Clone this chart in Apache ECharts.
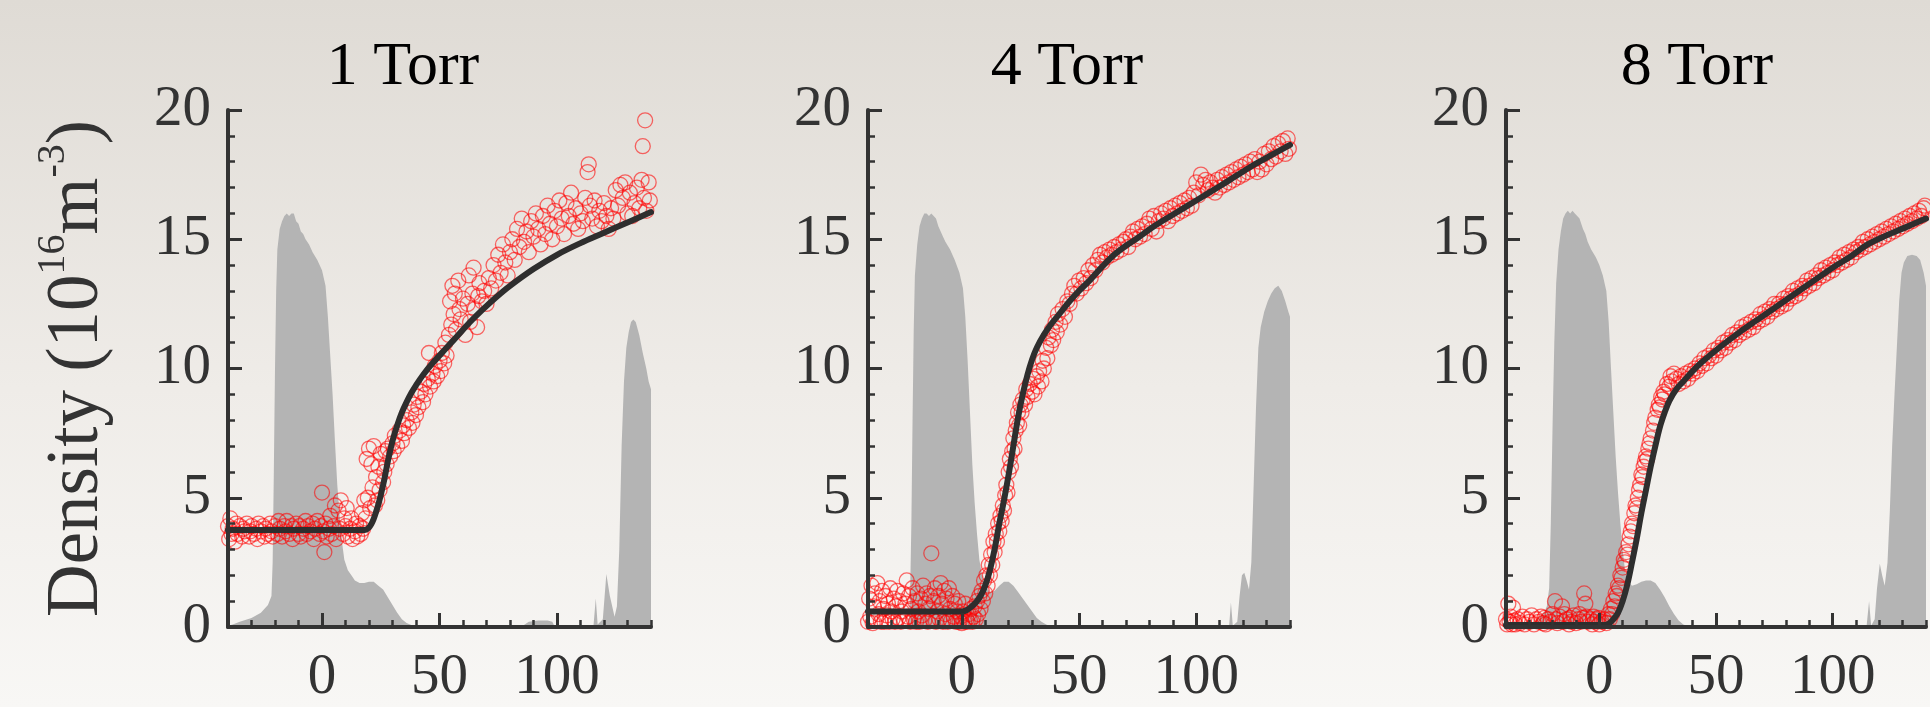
<!DOCTYPE html>
<html>
<head>
<meta charset="utf-8">
<script src="https://cdn.jsdelivr.net/npm/echarts@6/dist/echarts.min.js"></script>
<style>
html,body{margin:0;padding:0;background:#eeebe7;}
#chart{width:1930px;height:707px;}
</style>
</head>
<body>
<div id="chart"></div>
<script>
// ---------------- data ----------------
const panelTitles = ['1 Torr', '4 Torr', '8 Torr'];
const xTickLabels = [0, 50, 100];
const yAxisLabel = 'Density (10{sup|16}m{sup|-3})';

// grey pulse profiles
const pulse1Torr = [[-40,0.05],[-38,0.1],[-35,0.2],[-30,0.35],[-26,0.55],[-23,0.85],[-21.5,1.2],[-21,2.5],[-20.5,6],[-20,10],[-19.5,13],[-19,14.6],[-18,15.4],[-17,15.7],[-16,15.9],[-15,16.0],[-14,15.9],[-13,16.0],[-12,16.0],[-11,15.7],[-10,15.6],[-9,15.3],[-8,15.2],[-7,15.0],[-5.5,14.8],[-4,14.5],[-2,14.2],[0,13.8],[1.5,13.2],[2.5,12.0],[3.5,10.5],[4.5,9.0],[5.5,7.2],[6.5,5.5],[7.5,4.3],[8.5,3.3],[9.5,2.6],[11,2.2],[12.5,2.0],[14,1.8],[16,1.7],[18,1.7],[20,1.75],[22,1.75],[24,1.6],[26,1.45],[28,1.15],[30,0.85],[32,0.55],[34,0.3],[36,0.15],[38,0.08],[40,0.03],[85,0.02],[88,0.2],[92,0.25],[96,0.25],[98,0.2],[99,0.02],[115.5,0.02],[116.5,1.1],[117.3,0.1],[119.5,0.3],[121,2.05],[122.5,1.2],[124.5,0.4],[125.5,0.8],[126.5,3],[127.5,7],[128.5,9.5],[129.5,10.8],[130.5,11.4],[131.5,11.8],[132.5,11.9],[133.5,11.8],[135,11.3],[136.5,10.6],[138,10.0],[139,9.5],[140,9.2]];
const pulse4Torr = [[-40,0],[-23,0],[-22.5,0.3],[-22,1.5],[-21.5,4],[-21,8],[-20.5,11.5],[-20,13.6],[-19,14.8],[-18,15.5],[-17,15.8],[-16,16.0],[-15,16.0],[-14,15.9],[-13,16.0],[-12,15.9],[-11,15.8],[-10,15.5],[-9,15.3],[-8,15.1],[-7,14.9],[-5,14.6],[-3,14.2],[-1,13.7],[0.5,13.1],[1.5,12.0],[2.5,10.3],[3.5,8.3],[4.5,6.3],[5.5,4.8],[6.5,3.6],[7.5,2.6],[8.5,2.1],[10,1.6],[12,1.35],[14,1.4],[16,1.6],[18,1.75],[20,1.75],[22,1.6],[24,1.35],[26,1.1],[28,0.85],[30,0.6],[32,0.35],[34,0.2],[36,0.1],[38,0.03],[40,0],[114,0],[114.8,0.95],[115.6,0.05],[117.5,0.2],[118.5,1.2],[119.5,2.0],[120.5,2.1],[121.5,1.8],[122.5,1.45],[123.5,2.5],[124.5,5.5],[125.5,8.5],[126.5,10.8],[127.5,11.6],[129,12.2],[130.5,12.6],[132,12.9],[133.5,13.1],[135,13.2],[136.5,13.0],[138,12.6],[139.3,12.2],[140,12.0]];
const pulse8Torr = [[-40,0],[-30,0],[-27,0.3],[-25,0.45],[-23.5,0.6],[-22.5,0.8],[-21.5,1.5],[-20.8,4],[-20,8],[-19.3,11],[-18.5,13.3],[-17.5,14.6],[-16.5,15.3],[-15.5,15.8],[-14.5,16.0],[-13.5,16.1],[-12.5,16.0],[-11.5,16.1],[-10.5,16.0],[-9.5,15.9],[-8.5,15.8],[-7,15.4],[-6,15.2],[-5,14.9],[-3.5,14.6],[-1.5,14.3],[0,14.0],[1.5,13.6],[3,13.0],[4,11.8],[5,10.0],[6,8.3],[7,6.6],[8,5.2],[9,4.0],[10,3.0],[11,2.2],[12,1.8],[14,1.6],[16,1.65],[18,1.75],[20,1.8],[22,1.8],[24,1.7],[26,1.45],[28,1.15],[30,0.8],[32,0.5],[34,0.25],[36,0.1],[38,0.03],[40,0],[114.5,0],[115.6,1.0],[116.5,0.05],[118,0.3],[119,1.5],[120.2,2.45],[121.2,2.0],[122.3,1.6],[123.5,2.5],[124.5,4.5],[125.5,7.0],[126.5,9.0],[127.5,10.8],[128.5,12.6],[129.5,13.7],[130.5,14.1],[132,14.35],[134,14.4],[136,14.35],[137.5,14.2],[139,13.7],[140,13.2]];

// measured densities (red circles)
const points1Torr = [[-40,3.9],[-39.5,3.4],[-39,4.2],[-38.5,3.6],[-38,3.8],[-37,3.3],[-36.5,4.0],[-36,3.6],[-35,3.9],[-34,3.5],[-33.5,3.8],[-33,3.7],[-32,4.0],[-31,3.5],[-30.5,3.7],[-30,3.9],[-29,3.6],[-28,3.8],[-27.5,3.4],[-27,4.0],[-26,3.7],[-25,3.9],[-24.5,3.5],[-24,3.8],[-23,3.6],[-22,4.0],[-21.5,3.7],[-21,3.5],[-20,3.9],[-19,3.6],[-18.5,4.1],[-18,3.8],[-17,3.5],[-16,3.9],[-15.5,3.7],[-15,4.1],[-14,3.6],[-13,3.9],[-12.5,3.4],[-12,3.8],[-11,4.0],[-10,3.6],[-9.5,3.9],[-9,3.5],[-8,3.8],[-7,4.1],[-6.5,3.6],[-6,3.9],[-5,3.7],[-4,4.0],[-3.5,3.4],[-3,3.8],[-2,4.1],[-1,3.6],[-0.5,3.9],[0,5.2],[0.5,3.7],[1,2.9],[1.5,4.0],[2,3.5],[3,3.8],[3.5,4.3],[4,3.6],[5,3.9],[5.5,4.7],[6,3.4],[7,4.5],[7.5,3.8],[8,4.9],[9,3.6],[9.5,4.2],[10,3.9],[10.5,4.6],[11,3.5],[12,3.8],[12.5,4.2],[13,3.4],[14,3.7],[14.5,4.0],[15,3.5],[16,3.9],[16.5,3.6],[17,4.4],[17.5,3.8],[18,4.9],[18.5,4.2],[19,6.5],[19.5,5.0],[20,6.9],[20.5,4.6],[21,6.3],[21.5,5.4],[22,7.0],[22.5,4.7],[23,5.8],[23.5,4.9],[24,6.2],[24.5,5.3],[25,6.7],[26,5.6],[26.5,6.0],[27,6.8],[27.5,6.3],[28,6.9],[29,6.6],[30,7.1],[30.5,6.8],[31,7.4],[32,7.0],[33,7.6],[34,7.2],[34.5,7.8],[35,7.5],[36,8.0],[37,7.7],[38,8.3],[38.5,7.9],[39,8.6],[40,8.2],[40.5,8.9],[41,8.5],[42,9.1],[43,8.7],[43.5,9.4],[44,9.0],[45,9.6],[45.5,10.6],[46,9.3],[47,9.8],[47.5,9.5],[48,10.1],[49,9.7],[50,10.3],[50.5,9.9],[51,10.6],[52,10.2],[52.5,11.0],[53,10.5],[54,11.3],[54.5,12.6],[55,11.7],[55.5,13.2],[56,12.1],[56.5,12.9],[57,11.5],[58,13.4],[58.5,12.3],[59,11.9],[60,12.7],[61,11.3],[62,12.5],[62.5,13.6],[63,11.8],[64,12.9],[64.5,13.9],[65,12.3],[66,11.6],[66.5,12.8],[67,13.3],[68,12.6],[69,13.0],[70,12.5],[71,13.5],[72,13.1],[73,14.0],[74,13.4],[75,14.4],[76,13.7],[77,14.8],[78,14.1],[79,13.6],[80,14.5],[81,15.0],[82,14.2],[83,15.4],[84,14.7],[85,15.8],[86,14.9],[87,15.3],[88,14.5],[89,15.7],[90,15.1],[91,16.0],[92,15.4],[93,14.8],[94,15.9],[95,15.2],[96,16.3],[97,15.6],[98,15.0],[99,16.1],[100,15.5],[101,16.5],[102,15.8],[103,15.2],[104,16.4],[105,15.9],[106,16.8],[107,15.6],[108,16.2],[109,15.4],[110,16.0],[111,15.7],[112,16.6],[113,17.6],[113.5,17.9],[114,16.3],[115,15.8],[116,16.5],[117,15.5],[118,16.1],[119,15.7],[120,16.4],[121,15.9],[122,15.4],[123,16.2],[124,15.8],[125,16.9],[126,16.3],[127,17.1],[128,16.6],[129,17.2],[130,16.0],[131,16.8],[132,15.9],[133,16.4],[134,17.0],[135,16.2],[136,17.3],[136.5,18.6],[137,16.6],[137.5,19.6],[138,16.1],[139,17.2],[139.5,16.5]];
const points4Torr = [[-40,0.2],[-39.5,1.1],[-39,0.4],[-38.5,1.6],[-38,0.15],[-37.5,0.8],[-37,1.3],[-36.5,0.3],[-36,1.7],[-35.5,0.5],[-35,1.0],[-34.5,0.2],[-34,1.4],[-33.5,0.7],[-33,0.2],[-32.5,1.2],[-32,0.45],[-31.5,0.9],[-31,0.2],[-30.5,1.5],[-30,0.6],[-29.5,0.3],[-29,1.1],[-28.5,0.2],[-28,0.8],[-27.5,1.4],[-27,0.35],[-26.5,1.0],[-26,0.2],[-25.5,0.6],[-25,1.3],[-24.5,0.25],[-24,0.9],[-23.5,1.8],[-23,0.4],[-22.5,1.2],[-22,0.2],[-21.5,0.7],[-21,1.5],[-20.5,0.3],[-20,1.0],[-19.5,0.2],[-19,1.3],[-18.5,0.6],[-18,0.2],[-17.5,1.1],[-17,0.45],[-16.5,1.6],[-16,0.25],[-15.5,0.9],[-15,1.3],[-14.5,0.2],[-14,0.7],[-13.5,1.2],[-13,2.85],[-12.5,0.3],[-12,1.0],[-11.5,1.5],[-11,0.2],[-10.5,0.6],[-10,1.2],[-9.5,0.3],[-9,1.7],[-8.5,0.9],[-8,0.2],[-7.5,1.4],[-7,0.5],[-6.5,1.1],[-6,0.2],[-5.5,1.5],[-5,0.7],[-4.5,0.25],[-4,1.2],[-3.5,0.4],[-3,0.9],[-2.5,0.2],[-2,0.6],[-1.5,1.0],[-1,0.2],[-0.5,0.4],[0,0.15],[0.5,0.6],[1,0.2],[1.5,0.9],[2,0.3],[2.5,0.2],[3,0.5],[3.5,0.25],[4,0.7],[4.5,0.2],[5,0.4],[5.5,0.8],[6,0.3],[6.5,1.0],[7,0.5],[7.5,1.2],[8,0.7],[8.5,1.4],[9,1.0],[9.5,1.8],[10,1.3],[10.5,2.0],[11,1.6],[11.5,2.4],[12,2.0],[12.5,2.8],[13,2.4],[13.5,3.3],[14,2.9],[14.5,3.6],[15,3.3],[15.5,4.0],[16,3.7],[16.5,4.3],[17,4.1],[17.5,4.7],[18,4.5],[18.5,5.1],[19,5.5],[19.5,5.2],[20,6.0],[20.5,6.5],[21,6.2],[21.5,6.8],[22,7.3],[22.5,6.9],[23,7.6],[23.5,7.9],[24,8.3],[24.5,7.8],[25,8.6],[25.5,8.3],[26,8.8],[27,8.6],[27.5,9.2],[28,8.9],[29,9.4],[30,9.1],[30.5,9.6],[31,9.0],[32,9.7],[32.5,9.3],[33,9.9],[34,9.5],[34.5,10.3],[35,10.0],[36,10.8],[36.5,10.4],[37,11.2],[38,10.9],[38.5,11.5],[39,11.1],[40,11.8],[40.5,11.4],[41,12.1],[42,11.7],[43,12.3],[44,12.0],[45,12.6],[46,12.5],[47,12.9],[48,13.2],[49,12.9],[50,13.4],[51,13.1],[52,13.5],[53,13.3],[54,13.8],[55,13.5],[56,14.0],[57,13.8],[58,14.2],[59,14.4],[60,14.1],[61,14.5],[62,14.3],[63,14.6],[64,14.4],[65,14.7],[66,14.5],[67,14.8],[68,14.6],[69,14.9],[70,15.0],[71,14.7],[72,15.1],[73,15.3],[74,15.0],[75,15.4],[76,15.1],[77,15.5],[78,15.2],[79,15.6],[80,15.8],[81,15.4],[82,15.9],[83,15.3],[84,15.7],[85,16.0],[86,15.8],[87,16.1],[88,15.7],[89,16.2],[90,15.9],[91,16.3],[92,16.0],[93,16.4],[94,16.1],[95,16.5],[96,16.2],[97,16.6],[98,16.3],[99,16.8],[100,17.2],[101,16.7],[102,17.5],[103,17.1],[104,17.3],[105,16.9],[106,17.2],[107,17.0],[108,16.8],[109,17.3],[110,17.0],[111,17.4],[112,17.1],[113,17.5],[114,17.2],[115,17.6],[116,17.3],[117,17.7],[118,17.4],[119,17.8],[120,17.5],[121,17.9],[122,17.6],[123,18.0],[124,17.7],[125,18.1],[126,17.6],[127,18.0],[128,17.7],[129,18.3],[130,17.9],[131,18.4],[132,18.1],[133,18.6],[134,18.2],[135,18.7],[136,18.4],[137,18.8],[138,18.3],[139,18.9],[139.5,18.5]];
const points8Torr = [[-40,0.3],[-39.5,0.1],[-39,0.9],[-38.5,0.2],[-38,0.4],[-37.5,0.1],[-37,0.75],[-36.5,0.25],[-36,0.1],[-35,0.3],[-34,0.15],[-33,0.4],[-32,0.1],[-31,0.3],[-30,0.2],[-29,0.45],[-28,0.1],[-27,0.3],[-26,0.2],[-25,0.4],[-24,0.15],[-23.5,0.35],[-23,0.1],[-22,0.3],[-21,0.2],[-20,0.5],[-19,1.0],[-18.5,0.3],[-18,0.15],[-17,0.4],[-16,0.8],[-15.5,0.2],[-15,0.5],[-14,0.3],[-13,0.1],[-12.5,0.35],[-12,0.2],[-11,0.45],[-10,0.15],[-9,0.3],[-8.5,0.5],[-8,0.2],[-7,0.35],[-6.5,1.3],[-6,0.9],[-5.5,0.4],[-5,0.2],[-4,0.3],[-3,0.1],[-2.5,0.4],[-2,0.2],[-1,0.3],[-0.5,0.35],[0,0.1],[1,0.2],[2,0.3],[3,0.15],[4,0.5],[4.5,0.3],[5,0.7],[5.5,0.5],[6,1.0],[6.5,0.8],[7,1.3],[7.5,1.2],[8,1.6],[8.5,1.5],[9,2.0],[9.5,1.9],[10,2.3],[10.5,2.6],[11,2.5],[11.5,2.9],[12,2.8],[12.5,3.2],[13,3.5],[13.5,3.7],[14,4.0],[14.5,3.9],[15,4.4],[15.5,4.7],[16,4.6],[16.5,5.0],[17,5.3],[17.5,5.5],[18,5.9],[18.5,5.8],[19,6.2],[19.5,6.4],[20,6.6],[20.5,6.5],[21,6.9],[21.5,7.1],[22,7.3],[23,7.6],[23.5,7.9],[24,8.1],[25,8.4],[25.5,8.6],[26,8.5],[26.5,8.9],[27,8.8],[27.5,9.1],[28,9.0],[29,9.4],[30,9.3],[30.5,9.7],[31,9.5],[32,9.8],[33,9.6],[34,9.4],[35,9.7],[36,9.5],[37,9.8],[38,9.6],[39,9.9],[40,9.8],[41,10.0],[42,9.9],[43,10.2],[44,10.1],[45,10.4],[46,10.2],[47,10.5],[48,10.4],[49,10.7],[50,10.5],[51,10.8],[52,10.7],[53,11.0],[54,10.8],[55,11.1],[56,11.0],[57,11.3],[58,11.1],[59,11.4],[60,11.3],[61,11.6],[62,11.4],[63,11.7],[64,11.5],[65,11.8],[66,11.6],[67,11.9],[68,11.8],[69,12.1],[70,11.9],[71,12.2],[72,12.0],[73,12.3],[74,12.2],[75,12.5],[76,12.3],[77,12.5],[78,12.4],[79,12.7],[80,12.5],[81,12.8],[82,12.7],[83,13.0],[84,12.8],[85,13.1],[86,12.9],[87,13.2],[88,13.1],[89,13.4],[90,13.2],[91,13.5],[92,13.3],[93,13.6],[94,13.5],[95,13.8],[96,13.6],[97,13.9],[98,13.7],[99,14.0],[100,13.8],[101,14.1],[102,14.0],[103,14.3],[104,14.1],[105,14.4],[106,14.2],[107,14.5],[108,14.3],[109,14.6],[110,14.5],[111,14.7],[112,14.6],[113,14.9],[114,14.7],[115,15.0],[116,14.8],[117,15.1],[118,14.9],[119,15.2],[120,15.0],[121,15.3],[122,15.1],[123,15.4],[124,15.2],[125,15.5],[126,15.3],[127,15.6],[128,15.4],[129,15.7],[130,15.5],[131,15.8],[132,15.6],[133,15.9],[134,15.7],[135,16.0],[136,15.8],[137,16.1],[138,15.9],[139,16.2],[139.5,16.3]];

// fitted curves (black)
const fit1Torr = [[-40,3.75],[18,3.75],[19,3.78],[20,3.85],[21,3.98],[22,4.18],[23,4.45],[24,4.75],[25,5.1],[26.5,5.7],[28,6.4],[30,7.2],[32,7.8],[34,8.3],[36,8.7],[38,9.05],[40,9.35],[43,9.75],[47,10.2],[53,10.8],[58,11.3],[63,11.8],[68,12.25],[74,12.75],[80,13.2],[90,13.85],[100,14.4],[110,14.85],[120,15.25],[130,15.65],[140,16.05]];
const fit4Torr = [[-40,0.6],[0,0.6],[2,0.65],[4,0.78],[6,0.95],[8,1.2],[10,1.6],[12,2.2],[14,3.0],[16,4.0],[18,4.9],[20,5.9],[22,7.0],[24,8.1],[26,9.0],[28,9.75],[30,10.35],[32,10.8],[35,11.3],[38,11.7],[42,12.15],[46,12.6],[50,13.0],[55,13.45],[60,13.95],[65,14.4],[70,14.75],[75,15.05],[82,15.5],[90,15.95],[100,16.5],[110,17.05],[117,17.45],[125,17.9],[132,18.25],[140,18.65]];
const fit8Torr = [[-40,0.08],[2,0.08],[4,0.12],[6,0.3],[8,0.55],[10,1.0],[12,1.65],[14,2.5],[16,3.4],[18,4.4],[20,5.3],[22,6.2],[24,7.0],[26,7.75],[28,8.3],[30,8.75],[33,9.2],[36,9.5],[40,9.9],[44,10.25],[52,10.85],[60,11.4],[68,11.9],[76,12.4],[84,12.9],[92,13.4],[100,13.9],[108,14.35],[115,14.8],[123,15.15],[131,15.45],[140,15.8]];

const xMin = -40, xMax = 140, yMin = 0, yMax = 20;

// ---------------- chart ----------------
const FONT = '"Liberation Serif", "Times New Roman", Times, serif';
const AX = '#333333';
const panels = [
  {title: panelTitles[0], pulse: pulse1Torr, pts: points1Torr, fit: fit1Torr},
  {title: panelTitles[1], pulse: pulse4Torr, pts: points4Torr, fit: fit4Torr},
  {title: panelTitles[2], pulse: pulse8Torr, pts: points8Torr, fit: fit8Torr}
];
const gridLefts = [228, 868, 1506];
const gridWidths = [423, 422, 420];
const titleCenters = [403, 1067, 1697];

const grid = [], xAxis = [], yAxis = [], series = [], title = [];
panels.forEach((p, i) => {
  grid.push({left: gridLefts[i], top: 110, width: gridWidths[i], height: 528});
  title.push({
    text: p.title, left: titleCenters[i], top: 37, textAlign: 'center', padding: 0,
    textStyle: {fontFamily: FONT, fontSize: 62, fontWeight: 'normal', color: '#000'}
  });
  xAxis.push({
    gridIndex: i, type: 'value', min: xMin, max: xMax, interval: 10, position: 'bottom', z: 5,
    axisLine: {show: true, onZero: false, lineStyle: {color: AX, width: 4}},
    axisTick: {show: true, inside: true, length: 7, lineStyle: {color: AX, width: 2.5}},
    axisLabel: {
      formatter: v => (xTickLabels.indexOf(v) >= 0 ? String(v) : ''),
      fontFamily: FONT, fontSize: 57, color: AX, margin: 23
    },
    splitLine: {show: false}
  });
  xAxis.push({
    gridIndex: i, type: 'value', min: xMin, max: xMax, position: 'bottom', z: 5,
    axisLine: {show: false, onZero: false},
    axisTick: {show: true, inside: true, length: 14, customValues: xTickLabels, lineStyle: {color: AX, width: 3}},
    axisLabel: {show: false},
    splitLine: {show: false}
  });
  yAxis.push({
    gridIndex: i, type: 'value', min: yMin, max: yMax, interval: 5, z: 5,
    axisLine: {show: true, onZero: false, lineStyle: {color: AX, width: 4}},
    axisTick: {show: true, inside: true, length: 14, lineStyle: {color: AX, width: 3}},
    minorTick: {show: true, splitNumber: 5, length: 7, lineStyle: {color: AX, width: 2.5}},
    axisLabel: {fontFamily: FONT, fontSize: 57, color: AX, margin: 17},
    splitLine: {show: false}, minorSplitLine: {show: false},
    name: i === 0 ? yAxisLabel : '',
    nameLocation: 'middle', nameGap: 105, nameRotate: 90,
    nameTextStyle: {
      fontFamily: FONT, fontSize: 73, lineHeight: 90, color: AX,
      rich: {sup: {fontFamily: FONT, fontSize: 40, lineHeight: 40, verticalAlign: 'top', color: AX}}
    }
  });
  series.push({
    type: 'line', xAxisIndex: 2 * i, yAxisIndex: i, data: p.pulse, symbol: 'none', silent: true,
    lineStyle: {width: 0, opacity: 0}, areaStyle: {color: '#b4b4b4', opacity: 1}, z: 1
  });
  series.push({
    type: 'scatter', xAxisIndex: 2 * i, yAxisIndex: i, data: p.pts, symbol: 'circle', symbolSize: 15,
    itemStyle: {color: 'rgba(255,0,0,0)', borderColor: 'rgba(255,0,0,0.72)', borderWidth: 1.3}, z: 2
  });
  series.push({
    type: 'line', xAxisIndex: 2 * i, yAxisIndex: i, data: p.fit, symbol: 'none', smooth: 0.35,
    lineStyle: {color: '#2e2e2e', width: 6, cap: 'round', join: 'round'}, z: 3
  });
});

const chart = echarts.init(document.getElementById('chart'), null, {renderer: 'canvas'});
chart.setOption({
  animation: false,
  backgroundColor: {
    type: 'linear', x: 0, y: 0, x2: 0, y2: 1,
    colorStops: [{offset: 0, color: '#dfdbd5'}, {offset: 0.55, color: '#efece8'}, {offset: 1, color: '#f8f7f5'}]
  },
  title: title, grid: grid, xAxis: xAxis, yAxis: yAxis, series: series
});
</script>
</body>
</html>
